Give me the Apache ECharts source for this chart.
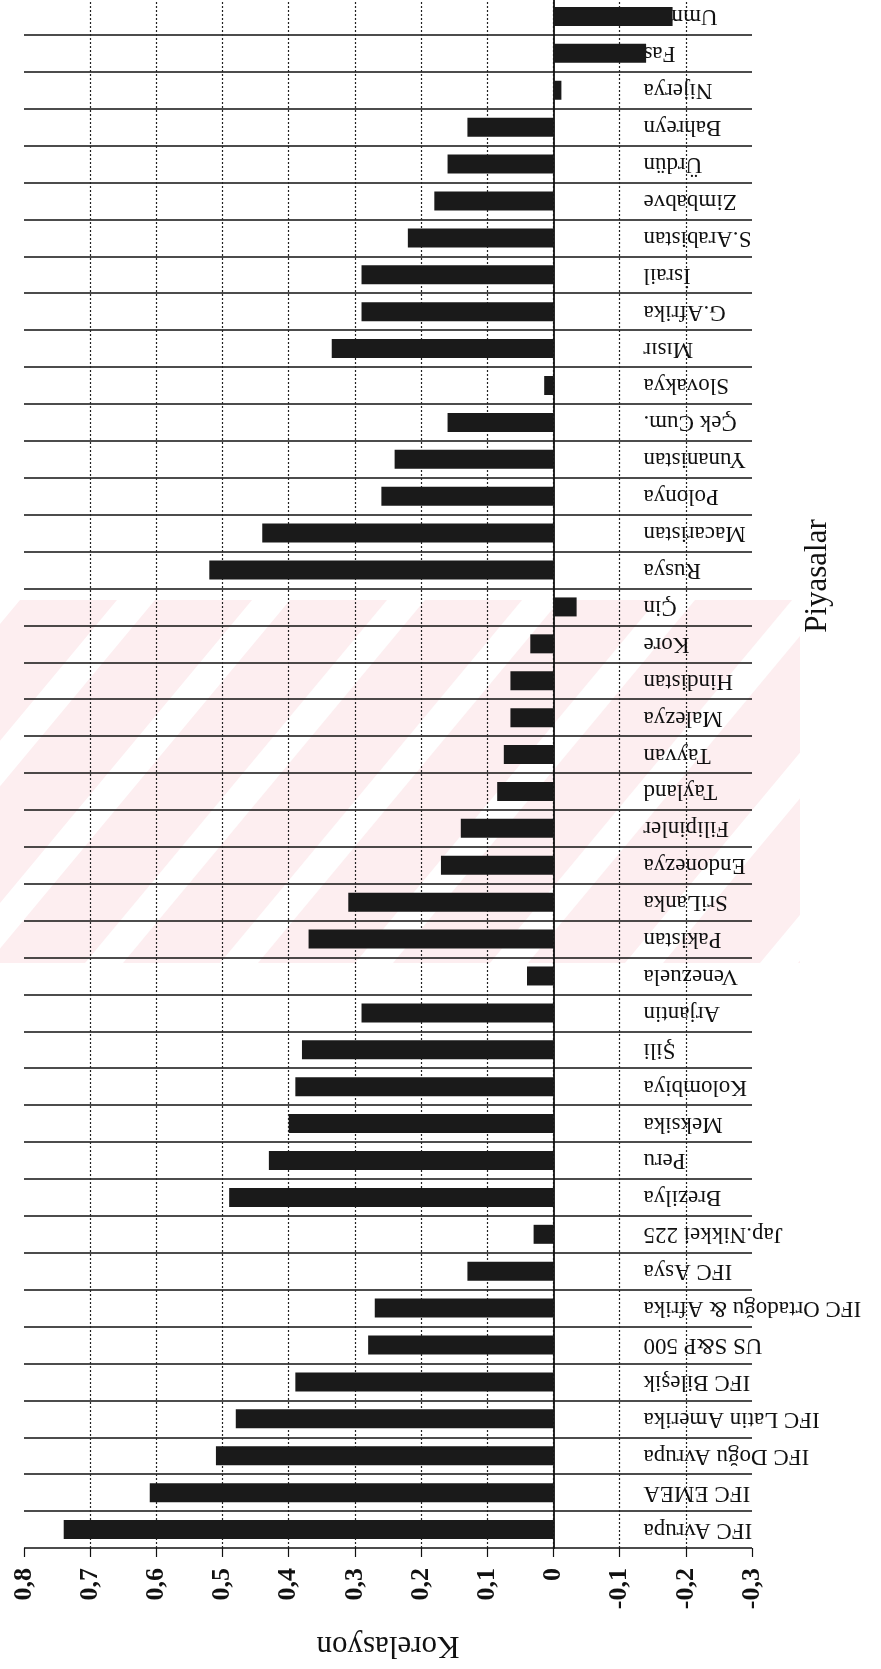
<!DOCTYPE html>
<html>
<head>
<meta charset="utf-8">
<script src="https://cdn.jsdelivr.net/npm/echarts@6/dist/echarts.min.js"></script>
<style>
  html, body { margin: 0; padding: 0; background: #fff; }
  #chart { width: 881px; height: 1669px; }
</style>
</head>
<body>
<div id="chart"></div>
<script>
// piyasalar, alttan uste
var piyasalar = [
    'IFC Avrupa', 'IFC EMEA', 'IFC Doğu Avrupa', 'IFC Latin Amerika', 'IFC Bileşik',
    'US S&P 500', 'IFC Ortadoğu & Afrika', 'IFC Asya', 'Jap.Nikkei 225',
    'Brezilya', 'Peru', 'Meksika', 'Kolombiya', 'Şili', 'Arjantin', 'Venezuela',
    'Pakistan', 'SriLanka', 'Endonezya', 'Filipinler', 'Tayland', 'Tayvan',
    'Malezya', 'Hindistan', 'Kore', 'Çin',
    'Rusya', 'Macaristan', 'Polonya', 'Yunanistan', 'Çek Cum.', 'Slovakya',
    'Mısır', 'G.Afrika', 'İsrail', 'S.Arabistan', 'Zimbabve', 'Ürdün',
    'Bahreyn', 'Nijerya', 'Fas', 'Umman'
];
var korelasyon = [
    0.74, 0.61, 0.51, 0.48, 0.39,
    0.28, 0.27, 0.13, 0.03,
    0.49, 0.43, 0.40, 0.39, 0.38, 0.29, 0.04,
    0.37, 0.31, 0.17, 0.14, 0.085, 0.075,
    0.065, 0.065, 0.035, -0.035,
    0.52, 0.44, 0.26, 0.24, 0.16, 0.014,
    0.335, 0.29, 0.29, 0.22, 0.18, 0.16,
    0.13, -0.012, -0.14, -0.18
];
var eksenMin = -0.3, eksenMax = 0.8, eksenAdim = 0.1;

var serif = 'Liberation Serif';
var gridLeft = 24, gridRight = 129;
var gridW = 881 - gridLeft - gridRight;
// kategori ekseni sifir cizgisinde dursun (etiketler de)
var sifirX = gridLeft + (eksenMax - 0) / (eksenMax - eksenMin) * gridW;
var yOffset = sifirX - (881 - gridRight);

// arka plandaki soluk pembe filigran (taranmis sayfadaki)
var filigran = [{
    type: 'rect', z: -10, silent: true,
    shape: { x: 0, y: 600, width: 800, height: 363 },
    style: { fill: '#fdeef0' }
}];
for (var sx = -320; sx < 820; sx += 135) {
    filigran.push({
        type: 'polygon', z: -9, silent: true,
        shape: { points: [[sx, 963], [sx + 38, 963], [sx + 38 + 302, 600], [sx + 302, 600]] },
        style: { fill: '#fff' }
    });
}

var myChart = echarts.init(document.getElementById('chart'));
var option = {
    backgroundColor: '#fff',
    animation: false,
    grid: {
        left: gridLeft, right: gridRight, top: -2, bottom: 121,
        containLabel: false,
        outerBoundsMode: 'none'
    },
    xAxis: {
        type: 'value',
        inverse: true,
        min: eksenMin,
        max: eksenMax,
        interval: eksenAdim,
        name: 'Korelasyon',
        nameLocation: 'middle',
        nameRotate: 180,
        nameGap: 82,
        nameTextStyle: { fontFamily: serif, fontSize: 31, color: '#111' },
        axisLine: { onZero: false, lineStyle: { color: '#111', width: 1.5 } },
        axisTick: { show: true, length: 9, lineStyle: { color: '#111', width: 1.2 } },
        axisLabel: {
            rotate: 90,
            margin: 20,
            fontFamily: serif,
            fontSize: 26,
            fontWeight: 'bold',
            color: '#111',
            formatter: function (v) {
                return String(+v.toFixed(1)).replace('.', ',');
            }
        },
        splitLine: {
            show: true,
            showMinLine: false,
            showMaxLine: false,
            lineStyle: { color: '#222', width: 1.2, type: [2, 2] }
        }
    },
    yAxis: {
        type: 'category',
        data: piyasalar,
        position: 'right',
        offset: yOffset,
        axisLine: { onZero: false, lineStyle: { color: '#111', width: 1.8 } },
        axisTick: { show: false },
        axisLabel: {
            interval: 0,
            rotate: 180,
            margin: 90,
            fontFamily: serif,
            fontSize: 23,
            color: '#111'
        },
        splitLine: {
            show: true,
            interval: 0,
            lineStyle: { color: '#111', width: 1.6 }
        }
    },
    graphic: filigran.concat([{
        type: 'text',
        x: 818,
        y: 576,
        rotation: Math.PI / 2,
        style: {
            text: 'Piyasalar',
            font: '31px "Liberation Serif"',
            fill: '#111',
            textAlign: 'center',
            textVerticalAlign: 'middle'
        }
    }]),
    series: [{
        type: 'bar',
        data: korelasyon,
        barWidth: 19,
        itemStyle: { color: '#1a1a1a' },
        label: { show: false }
    }]
};
myChart.setOption(option);
</script>
</body>
</html>
